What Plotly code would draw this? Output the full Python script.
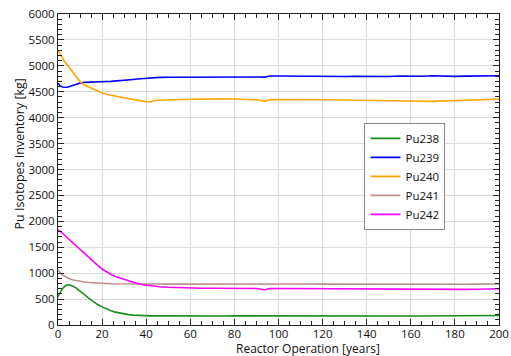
import plotly.graph_objects as go

years = [0,1,2,3,4,5,6,7,8,9,10,12,14,16,18,20,22,24,26,28,30,32,34,36,38,40,42,44,46,
         50,55,60,65,70,75,80,85,90,94,96,100,105,110,115,120,125,130,135,140,145,150,
         155,160,165,170,175,180,185,190,195,200]

pu238 = [546,640,700,745,770,775,765,745,720,690,655,585,515,450,395,350,310,275,248,228,212,200,190,183,179,177,176,176,175,
         175,174,175,176,175,175,176,175,175,174,175,175,175,174,175,175,175,176,175,175,175,175,
         176,175,175,176,177,177,178,180,182,183]
pu239 = [4663,4610,4590,4585,4587,4595,4610,4625,4640,4655,4670,4680,4686,4690,4692,4694,4697,4700,4705,4712,4720,4728,4737,4745,4752,4760,4775,4778,4778,
         4780,4782,4785,4782,4788,4785,4783,4786,4784,4782,4805,4803,4800,4798,4802,4795,4797,4795,4800,4796,4798,4795,
         4805,4800,4798,4808,4800,4796,4802,4805,4808,4810]
pu240 = [5300,5220,5140,5080,5030,4980,4920,4860,4800,4750,4700,4630,4590,4545,4505,4475,4450,4430,4412,4398,4385,4370,4350,4330,4318,4310,4302,4330,4335,
         4345,4350,4355,4360,4365,4362,4360,4350,4345,4320,4345,4348,4350,4345,4350,4342,4345,4340,4335,4330,4325,4325,
         4320,4322,4318,4315,4320,4322,4340,4345,4350,4360]
pu241 = [1061,1010,970,940,915,895,880,868,858,850,843,830,820,812,807,804,800,797,795,793,792,791,790,790,790,789,789,790,790,
         789,790,790,790,789,790,790,789,789,785,789,790,789,789,790,788,787,786,784,783,782,782,
         781,780,780,780,781,782,785,788,790,791]
pu242 = [1833,1810,1770,1730,1690,1650,1615,1580,1545,1505,1465,1390,1305,1225,1150,1080,1025,975,935,905,875,850,825,800,780,768,755,745,738,
         728,718,712,710,708,708,707,707,705,680,702,703,702,700,700,696,690,688,686,685,684,684,
         683,682,682,683,684,685,688,690,695,700]

x_title = "Reactor Operation [years]"
y_title = "Pu Isotopes Inventory [kg]"

series = [("Pu238", pu238, "#1a8c1a"),
          ("Pu239", pu239, "#0000ff"),
          ("Pu240", pu240, "#ffa500"),
          ("Pu241", pu241, "#bc8f8f"),
          ("Pu242", pu242, "#ff00ff")]

fig = go.Figure()
for name, vals, col in series:
    fig.add_trace(go.Scatter(x=years, y=vals, mode="lines", name=name,
                             line=dict(color=col, width=1.6)))

axis_common = dict(showline=True, linecolor="#222", linewidth=1, mirror="allticks",
                   ticks="inside", ticklen=6, tickcolor="#222",
                   showgrid=True, gridcolor="#dcdcdc", gridwidth=1,
                   zeroline=False, tickfont=dict(size=11.5, color="#111"),
                   automargin=False)

fig.update_xaxes(range=[0, 200], dtick=20, tick0=0, ticklabelstandoff=-2,
                 minor=dict(dtick=5, ticks="inside", ticklen=4, tickcolor="#222", showgrid=False),
                 **axis_common)
fig.update_yaxes(range=[0, 6000], dtick=500, tick0=0,
                 minor=dict(dtick=100, ticks="inside", ticklen=4, tickcolor="#222", showgrid=False),
                 **axis_common)

fig.add_annotation(text=x_title, xref="paper", yref="paper", x=0.5, y=0,
                   xshift=29, yshift=-23, xanchor="center", yanchor="middle",
                   showarrow=False, font=dict(size=12, color="#111"))
fig.add_annotation(text=y_title, xref="paper", yref="paper", x=0, y=0.5,
                   xshift=-39, yshift=15, xanchor="center", yanchor="middle", textangle=-90,
                   showarrow=False, font=dict(size=12.5, color="#111"))

fig.update_layout(
    width=511, height=356,
    margin=dict(l=58, r=12, t=14, b=31),
    paper_bgcolor="white", plot_bgcolor="white",
    font=dict(family="Open Sans, Lato, sans-serif", color="#111"),
    showlegend=True,
    legend=dict(x=0.695, y=0.65, xanchor="left", yanchor="top",
                bgcolor="white", bordercolor="#888", borderwidth=1,
                font=dict(size=11.5), tracegroupgap=0, itemwidth=30),
)

fig.write_html("out.html", config={"displayModeBar": False},
               post_script="document.body.style.margin='0';document.body.style.padding='0';")
